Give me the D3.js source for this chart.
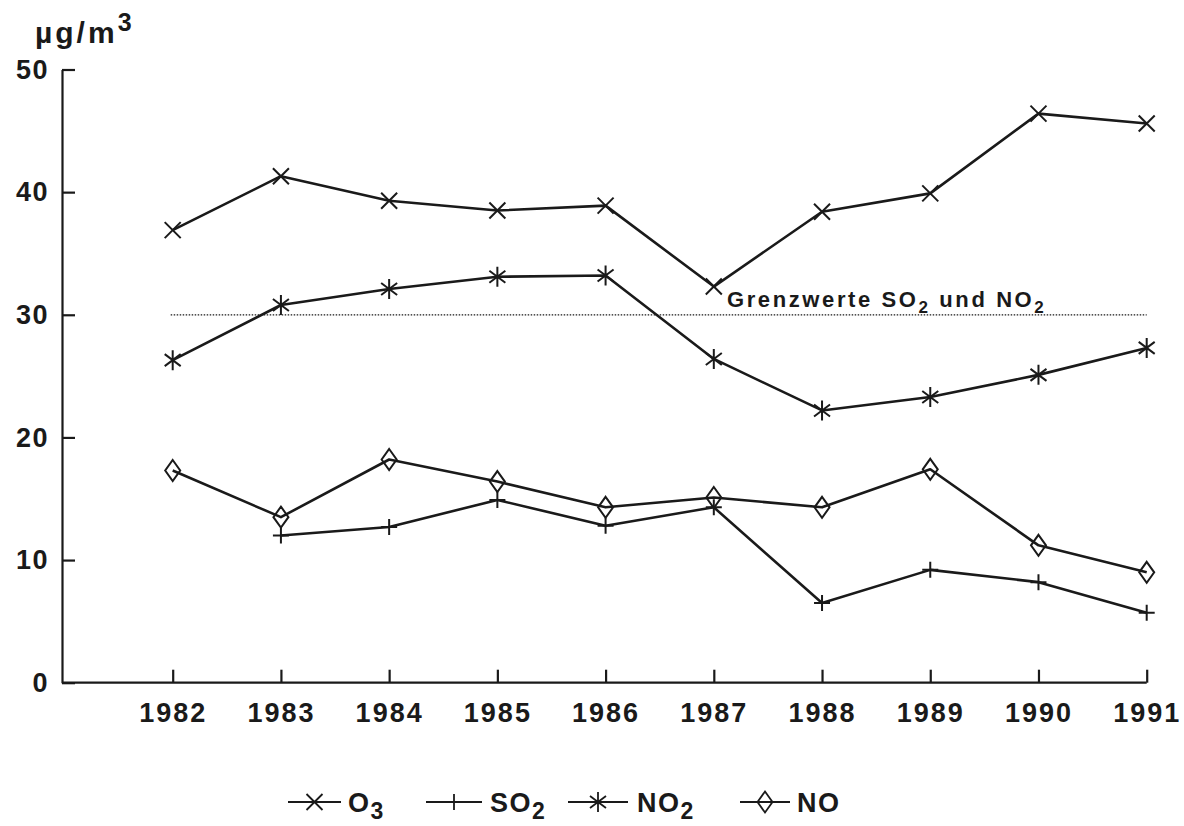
<!DOCTYPE html>
<html>
<head>
<meta charset="utf-8">
<script src="https://cdn.jsdelivr.net/npm/d3@7"></script>
<style>
  html, body { margin: 0; padding: 0; background: #fff; }
  svg text { font-family: "Liberation Sans", Arial, Helvetica, sans-serif; fill: #1a1a1a; }
</style>
</head>
<body>
<svg id="chart" width="1184" height="826"></svg>
<script>
// ---- data ----
const years = [1982, 1983, 1984, 1985, 1986, 1987, 1988, 1989, 1990, 1991];
const o3  = [36.9, 41.3, 39.3, 38.5, 38.9, 32.3, 38.4, 39.9, 46.4, 45.6];
const so2 = [null, 12.0, 12.7, 14.9, 12.8, 14.3, 6.5, 9.2, 8.2, 5.7];
const no2 = [26.3, 30.8, 32.1, 33.1, 33.2, 26.4, 22.2, 23.3, 25.1, 27.3];
const no  = [17.3, 13.5, 18.2, 16.4, 14.3, 15.1, 14.3, 17.4, 11.2, 9.0];
const yTicks = [0, 10, 20, 30, 40, 50];
const limitValue = 30;
const seriesNames = [["O", "3"], ["SO", "2"], ["NO", "2"], ["NO", ""]];

const svg = d3.select("#chart");
const ink = "#1a1a1a";
const FONT = '"Liberation Sans", Arial, sans-serif';

const x = d3.scaleLinear().domain([1982, 1991]).range([172.7, 1146.7]);
const y = d3.scaleLinear().domain([0, 50]).range([682.7, 69.5]);
const x0 = 62;

// axes
const yAxis = d3.axisLeft(y).tickValues(yTicks).tickSize(-13).tickSizeOuter(0).tickPadding(13);
const gy = svg.append("g").attr("transform", `translate(${x0},0)`).call(yAxis);
gy.select(".domain").attr("stroke", ink).attr("stroke-width", 2.2);
gy.selectAll(".tick line").attr("stroke", ink).attr("stroke-width", 2.2);
gy.selectAll(".tick text").attr("font-size", 27).attr("font-weight", "bold").attr("fill", ink)
  .attr("letter-spacing", 1.5).style("font-family", FONT);

const xAxis = d3.axisBottom(x).tickValues(years).tickFormat(d3.format("d")).tickSize(-13).tickSizeOuter(0).tickPadding(20);
const gx = svg.append("g").attr("transform", `translate(0,${y(0)})`).call(xAxis);
gx.select(".domain").attr("d", `M${x0},0H${x(1991)}`).attr("stroke", ink).attr("stroke-width", 2.2);
gx.selectAll(".tick line").attr("stroke", ink).attr("stroke-width", 2.2);
gx.selectAll(".tick text").attr("font-size", 27).attr("font-weight", "bold").attr("fill", ink)
  .attr("letter-spacing", 2).style("font-family", FONT);

// unit label
const unit = svg.append("text").attr("x", 35).attr("y", 43).attr("font-size", 30).attr("font-weight", "bold").attr("letter-spacing", 3);
unit.append("tspan").text("µg/m");
unit.append("tspan").attr("dy", -12).attr("font-size", 25).text("3");

// limit line
svg.append("line")
  .attr("x1", x(1982) - 2).attr("x2", x(1991))
  .attr("y1", y(limitValue)).attr("y2", y(limitValue))
  .attr("stroke", ink).attr("stroke-width", 1.3).attr("stroke-dasharray", "1.5,1.5");
const lt = svg.append("text").attr("x", 727).attr("y", y(limitValue) - 8).attr("font-size", 22).attr("font-weight", "bold").attr("letter-spacing", 2.6);
lt.append("tspan").text("Grenzwerte SO");
lt.append("tspan").attr("dy", 6).attr("font-size", 17).text("2");
lt.append("tspan").attr("dy", -6).text(" und NO");
lt.append("tspan").attr("dy", 6).attr("font-size", 17).text("2");

// marker paths
const markers = {
  x: "M-8,-8L8,8M-8,8L8,-8",
  plus: "M-8,0H8M0,-8V8",
  star: "M0,-10V10M-8,-6L8,6M-8,6L8,-6",
  diamond: "M0,-10.5L7.5,0L0,10.5L-7.5,0Z"
};
const markerKeys = ["x", "plus", "star", "diamond"];
const allSeries = [o3, so2, no2, no];

const line = d3.line().defined(d => d.v != null).x(d => x(d.year)).y(d => y(d.v));

allSeries.forEach((vals, i) => {
  const pts = years.map((yr, j) => ({ year: yr, v: vals[j] }));
  svg.append("path").datum(pts).attr("d", line)
    .attr("fill", "none").attr("stroke", ink).attr("stroke-width", 2.6).attr("stroke-linejoin", "round");
  svg.append("g").selectAll("path").data(pts.filter(d => d.v != null)).join("path")
    .attr("transform", d => `translate(${x(d.year)},${y(d.v)})`)
    .attr("d", markers[markerKeys[i]])
    .attr("fill", "none").attr("stroke", ink).attr("stroke-width", 2);
});

// legend
const legendItems = [
  { lx1: 288, lx2: 341, tx: 348 },
  { lx1: 426, lx2: 482, tx: 490 },
  { lx1: 568, lx2: 628, tx: 637 },
  { lx1: 740, lx2: 790, tx: 797 }
];
const ly = 802;
legendItems.forEach((it, i) => {
  const g = svg.append("g");
  g.append("line").attr("x1", it.lx1).attr("x2", it.lx2).attr("y1", ly).attr("y2", ly)
    .attr("stroke", ink).attr("stroke-width", 2.2);
  g.append("path").attr("transform", `translate(${(it.lx1 + it.lx2) / 2},${ly})`)
    .attr("d", markers[markerKeys[i]]).attr("fill", "none").attr("stroke", ink).attr("stroke-width", 1.8);
  const t = g.append("text").attr("x", it.tx).attr("y", ly + 10).attr("font-size", 27).attr("font-weight", "bold").attr("letter-spacing", 1.5);
  t.append("tspan").text(seriesNames[i][0]);
  if (seriesNames[i][1]) t.append("tspan").attr("dy", 7).attr("font-size", 23).text(seriesNames[i][1]);
});
</script>
</body>
</html>
